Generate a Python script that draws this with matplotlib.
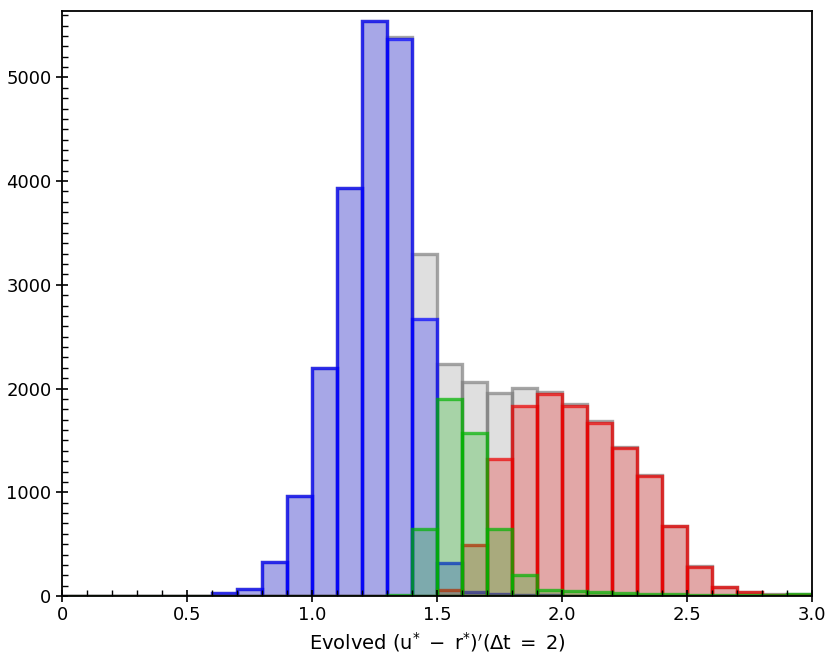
import numpy as np
import matplotlib
matplotlib.use("Agg")
import matplotlib.pyplot as plt
from matplotlib.ticker import MultipleLocator

plt.rcParams['font.family'] = ['DejaVu Sans']
plt.rcParams['mathtext.fontset'] = 'dejavusans'

# bin edges 0.0 .. 3.0, width 0.1
bin_edges = np.round(np.arange(0, 3.0001, 0.1), 2)
centers = (bin_edges[:-1] + bin_edges[1:]) / 2

#            0.0 0.1 0.2 0.3 0.4 0.5 0.6 0.7 0.8  0.9  1.0   1.1   1.2   1.3   1.4   1.5   1.6   1.7   1.8   1.9   2.0   2.1   2.2   2.3   2.4  2.5  2.6  2.7  2.8  2.9
total_counts = [0, 0, 0, 0, 0, 0, 30, 65, 328, 963, 2197, 3930, 5540, 5385, 3295, 2235, 2065, 1953, 2001, 1968, 1856, 1690, 1440, 1165, 676, 285, 85, 42, 22, 15]
blue_counts  = [0, 0, 0, 0, 0, 0, 30, 65, 328, 963, 2197, 3930, 5540, 5375, 2669, 321, 42, 20, 10, 5, 2, 0, 0, 0, 0, 0, 0, 0, 0, 0]
red_counts   = [0, 0, 0, 0, 0, 0, 0, 0, 0, 0, 0, 0, 0, 0, 0, 58, 488, 1317, 1830, 1946, 1830, 1670, 1426, 1156, 674, 283, 83, 35, 10, 5]
green_counts = [0, 0, 0, 0, 0, 0, 0, 0, 0, 0, 0, 0, 0, 10, 642, 1895, 1574, 642, 199, 58, 45, 40, 25, 20, 15, 10, 8, 8, 12, 15]

fig = plt.figure(figsize=(8.3, 6.64), dpi=100)
ax = fig.add_axes([0.0747, 0.1024, 0.9036, 0.8810])

series = [
    (total_counts, (0.5, 0.5, 0.5)),
    (blue_counts, (0.0, 0.0, 1.0)),
    (red_counts, (0.92, 0.0, 0.0)),
    (green_counts, (0.0, 0.7, 0.0)),
]
for counts, col in series:
    ax.hist(centers, bins=bin_edges, weights=counts, histtype='bar', rwidth=1.0,
            facecolor=col + (0.25,), edgecolor=col + (0.7,), linewidth=2.4)

ax.set_xlim(0, 3.0)
ax.set_ylim(0, 5640)
ax.xaxis.set_major_locator(MultipleLocator(0.5))
ax.xaxis.set_minor_locator(MultipleLocator(0.1))
ax.yaxis.set_major_locator(MultipleLocator(1000))
ax.yaxis.set_minor_locator(MultipleLocator(100))
ax.set_xticks([0, 0.5, 1.0, 1.5, 2.0, 2.5, 3.0])
ax.set_xticklabels(['0', '0.5', '1.0', '1.5', '2.0', '2.5', '3.0'])
ax.tick_params(which='major', direction='inout', length=8, width=1.2, labelsize=13, top=False, right=False)
ax.tick_params(which='minor', direction='in', length=4, width=1.0, top=False, right=False)
for s in ax.spines.values():
    s.set_linewidth(1.3)

ax.set_xlabel(r"Evolved $(\mathrm{u}^{*}\;-\;\mathrm{r}^{*})'(\Delta\mathrm{t}\;=\;2)$", fontsize=14, labelpad=4)

fig.savefig("out.png", dpi=100)
